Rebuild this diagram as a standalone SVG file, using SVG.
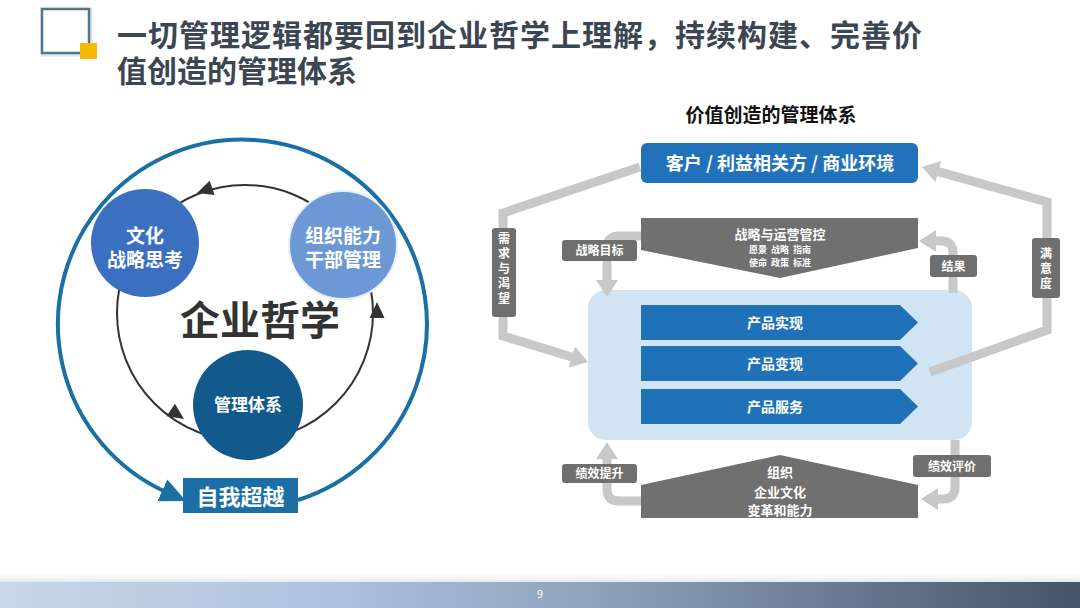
<svg xmlns="http://www.w3.org/2000/svg" width="1080" height="608" viewBox="0 0 1080 608">
<defs>
<style>
text{font-family:"Noto Sans CJK SC","Noto Sans",sans-serif;font-weight:bold}
.title{font-size:30px;fill:#3b4652}
.wc{fill:#fff;text-anchor:middle}
.gline{fill:none;stroke:#c8c8c8;stroke-width:9}
.lbl{fill:#6f6f6f}
.lt{fill:#fff;font-size:12px;text-anchor:middle}
.bar{fill:#1f72b8}
.trap{fill:#707070}
.pre{white-space:pre}
</style>
<linearGradient id="foot" x1="0" y1="0" x2="1" y2="0">
<stop offset="0" stop-color="#c9d7e6"/>
<stop offset="0.3" stop-color="#adc3df"/>
<stop offset="0.55" stop-color="#8ea3bb"/>
<stop offset="1" stop-color="#44546a"/>
</linearGradient>
<linearGradient id="fshade" x1="0" y1="0" x2="0" y2="1">
<stop offset="0" stop-color="#ffffff" stop-opacity="0"/>
<stop offset="1" stop-color="#dfe4ea"/>
</linearGradient>
<marker id="garr" viewBox="0 -11 17 22" refX="1" refY="0" markerWidth="17" markerHeight="22" markerUnits="userSpaceOnUse" orient="auto">
<path d="M0,-11 L17,0 L0,11 z" fill="#c8c8c8"/>
</marker>
<marker id="barr" viewBox="0 -12 26 24" refX="4" refY="0" markerWidth="26" markerHeight="24" markerUnits="userSpaceOnUse" orient="auto">
<path d="M0,-12 L26,0 L0,12 z" fill="#1a6fa3"/>
</marker>
<path id="tri" d="M0,0 L-16,-7.5 L-16,7.5 z" fill="#333"/>
</defs>
<rect width="1080" height="608" fill="#fff"/>

<!-- header -->
<g id="header">
<rect x="43" y="10" width="47" height="44" fill="none" stroke="#dfe5ea" stroke-width="5"/>
<rect x="42" y="9" width="47" height="44" fill="#fff" stroke="#54768c" stroke-width="2.5"/>
<rect x="80" y="43" width="17" height="16" fill="#f5b800"/>
<text class="title" x="117" y="46" letter-spacing="1">一切管理逻辑都要回到企业哲学上理解，持续构建、完善价</text>
<text class="title" x="117" y="82">值创造的管理体系</text>
</g>

<!-- left diagram -->
<g id="outer-loop">
<path d="M298,500 A184.5,184.5 0 1 0 166,492" fill="none" stroke="#1a6fa3" stroke-width="4" marker-end="url(#barr)"/>
</g>
<g id="inner-loop">
<circle cx="245" cy="313" r="128" fill="none" stroke="#333" stroke-width="2"/>
<use href="#tri" transform="translate(197,193) rotate(161)"/>
<use href="#tri" transform="translate(377,302) rotate(-90)"/>
<use href="#tri" transform="translate(184,419) rotate(34)"/>
</g>
<g id="node-culture">
<circle cx="145" cy="243" r="54" fill="#3b70c0"/>
<text class="wc" x="145" y="243" font-size="19">文化</text>
<text class="wc" x="145" y="267" font-size="19">战略思考</text>
</g>
<g id="node-org">
<circle cx="343" cy="245" r="54" fill="#6c98d5" stroke="#e6eef8" stroke-width="2"/>
<text class="wc" x="343" y="243" font-size="19">组织能力</text>
<text class="wc" x="343" y="267" font-size="19">干部管理</text>
</g>
<g id="node-mgmt">
<circle cx="248" cy="405" r="55" fill="#125a8b"/>
<text class="wc" x="248" y="411" font-size="17">管理体系</text>
</g>
<g id="center-label">
<text x="260" y="335" font-size="40" fill="#333" text-anchor="middle">企业哲学</text>
</g>
<g id="node-self">
<rect x="183" y="478" width="115" height="35" fill="#1b6fa6"/>
<text class="wc" x="240.5" y="505" font-size="22">自我超越</text>
</g>

<!-- right diagram -->
<g id="right-title">
<text x="771" y="122" font-size="19" fill="#111" text-anchor="middle">价值创造的管理体系</text>
</g>
<g id="node-customer">
<rect x="641" y="143" width="277" height="40" rx="6" fill="#2172bb"/>
<text class="wc" x="780" y="170" font-size="18">客户 / 利益相关方 / 商业环境</text>
</g>
<g id="node-panel">
<rect x="588" y="290" width="384" height="150" rx="18" fill="#d0e4f3"/>
</g>
<g id="node-bar1">
<path class="bar" d="M641,305 L900,305 L918,322.5 L900,340 L641,340 z"/>
<text class="wc" x="775" y="328" font-size="14">产品实现</text>
</g>
<g id="node-bar2">
<path class="bar" d="M641,346 L900,346 L918,363.5 L900,381 L641,381 z"/>
<text class="wc" x="775" y="369" font-size="14">产品变现</text>
</g>
<g id="node-bar3">
<path class="bar" d="M641,389 L900,389 L918,406.5 L900,424 L641,424 z"/>
<text class="wc" x="775" y="412" font-size="14">产品服务</text>
</g>
<g id="node-strategy">
<path class="trap" d="M641,218 L918,218 L918,248 L780,278 L641,250 z"/>
<text class="wc" x="780" y="239" font-size="13">战略与运营管控</text>
<text class="wc pre" x="780" y="253" font-size="9">愿景  战略  指南</text>
<text class="wc pre" x="780" y="266" font-size="9">使命  政策  标准</text>
</g>
<g id="node-organization">
<path class="trap" d="M641,518 L641,485 L780,455 L918,485 L918,518 z"/>
<text class="wc" x="780" y="477" font-size="13">组织</text>
<text class="wc" x="780" y="497" font-size="13">企业文化</text>
<text class="wc" x="780" y="515" font-size="13">变革和能力</text>
</g>

<g id="connectors">
<path class="gline" d="M640,167 L503,213 L503,336 L572.7,357.3" marker-end="url(#garr)"/>
<path class="gline" d="M930,372 L1047,330 L1047,202 L937.4,171.3" marker-end="url(#garr)"/>
<path class="gline" d="M641,236 L619,236 Q607,236 607,248 L607,281" marker-end="url(#garr)"/>
<path class="gline" d="M953,293 L953,253 Q953,241 941,241 L935,241" marker-end="url(#garr)"/>
<path class="gline" d="M641,501 L619,501 Q607,501 607,489 L607,458" marker-end="url(#garr)"/>
<path class="gline" d="M955,440 L955,487 Q955,499 943,499 L937,499" marker-end="url(#garr)"/>

<rect class="lbl" x="492" y="228" width="24" height="89" rx="3"/>
<text class="lt" x="504" y="243" font-size="13">需</text>
<text class="lt" x="504" y="258" font-size="13">求</text>
<text class="lt" x="504" y="273" font-size="13">与</text>
<text class="lt" x="504" y="288" font-size="13">渴</text>
<text class="lt" x="504" y="303" font-size="13">望</text>

<rect class="lbl" x="1032" y="238" width="28" height="60" rx="3"/>
<text class="lt" x="1046" y="258" font-size="13">满</text>
<text class="lt" x="1046" y="273" font-size="13">意</text>
<text class="lt" x="1046" y="288" font-size="13">度</text>

<rect class="lbl" x="562" y="240" width="75" height="21" rx="3"/>
<text class="lt" x="599.5" y="255">战略目标</text>
<rect class="lbl" x="930" y="255" width="47" height="22" rx="3"/>
<text class="lt" x="953.5" y="270.5">结果</text>
<rect class="lbl" x="562" y="464" width="75" height="19" rx="3"/>
<text class="lt" x="599.5" y="478">绩效提升</text>
<rect class="lbl" x="913" y="455" width="78" height="22" rx="3"/>
<text class="lt" x="952" y="470.5">绩效评价</text>
</g>

<!-- footer -->
<g id="footer">
<rect x="0" y="570" width="1080" height="13" fill="url(#fshade)"/>
<rect x="0" y="582" width="1080" height="26" fill="url(#foot)"/>
<text x="540" y="598" font-size="11" fill="#fff" text-anchor="middle" style="font-weight:normal">9</text>
</g>
</svg>
